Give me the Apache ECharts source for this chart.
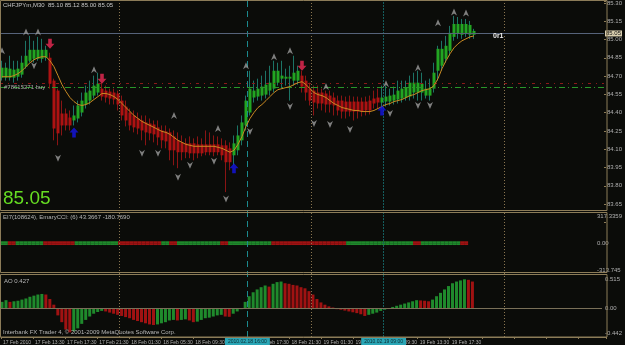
<!DOCTYPE html>
<html><head><meta charset="utf-8">
<script src="https://cdn.jsdelivr.net/npm/echarts@6/dist/echarts.min.js"></script>
<style>html,body{margin:0;padding:0;background:#0b0c09;}#c{width:625px;height:345px;}</style>
</head><body><div id="c"></div>
<script>
// ---------- data ----------
const timeLabels = ['17 Feb 2010','17 Feb 13:30','17 Feb 17:30','17 Feb 21:30','18 Feb 01:30','18 Feb 05:30','18 Feb 09:30','18 Feb 13:30','18 Feb 17:30','18 Feb 21:30','19 Feb 01:30','19 Feb 05:30','19 Feb 09:30','19 Feb 13:30','19 Feb 17:30'];
const haOpen = [84.687,84.687,84.687,84.687,84.695,84.712,84.777,84.826,84.842,84.842,
84.842,84.851,84.851,84.663,84.581,84.393,84.393,84.360,84.336,84.352,
84.401,84.467,84.499,84.540,84.565,84.597,84.581,84.573,84.565,84.557,
84.499,84.450,84.401,84.377,84.352,84.336,84.320,84.311,84.303,84.279,
84.254,84.246,84.238,84.205,84.173,84.156,84.148,84.148,84.148,84.140,
84.140,84.140,84.140,84.140,84.140,84.132,84.132,84.107,84.050,84.091,
84.173,84.295,84.401,84.524,84.532,84.540,84.548,84.581,84.597,84.646,
84.679,84.679,84.679,84.663,84.663,84.704,84.663,84.597,84.581,84.565,
84.565,84.557,84.540,84.524,84.499,84.499,84.491,84.491,84.491,84.491,
84.491,84.491,84.499,84.516,84.524,84.483,84.491,84.491,84.499,84.508,
84.516,84.524,84.532,84.565,84.565,84.565,84.540,84.540,84.597,84.744,
84.785,84.842,84.908,85.022,85.047,85.039,85.047,85.039,85.039];
const haClose = [84.769,84.769,84.761,84.753,84.761,84.810,84.867,84.916,84.916,84.916,
84.916,84.916,84.638,84.270,84.230,84.295,84.295,84.295,84.377,84.459,
84.499,84.565,84.581,84.622,84.638,84.532,84.524,84.516,84.508,84.467,
84.377,84.336,84.295,84.279,84.270,84.254,84.238,84.230,84.222,84.197,
84.173,84.164,84.091,84.091,84.075,84.075,84.075,84.066,84.066,84.066,
84.066,84.075,84.075,84.075,84.075,84.050,83.993,83.993,84.148,84.213,
84.320,84.499,84.597,84.581,84.597,84.614,84.630,84.646,84.744,84.744,
84.704,84.695,84.695,84.728,84.744,84.614,84.565,84.499,84.483,84.475,
84.475,84.467,84.467,84.459,84.418,84.409,84.409,84.409,84.409,84.409,
84.409,84.418,84.418,84.475,84.483,84.524,84.532,84.540,84.548,84.581,
84.597,84.606,84.646,84.646,84.646,84.638,84.597,84.597,84.728,84.924,
84.924,84.949,85.055,85.128,85.128,85.128,85.128,85.120,85.071];
const haLow = [84.663,84.663,84.663,84.646,84.663,84.687,84.761,84.810,84.810,84.826,
84.810,84.826,84.597,84.173,84.132,84.213,84.254,84.254,84.295,84.320,
84.369,84.434,84.467,84.516,84.540,84.499,84.483,84.467,84.467,84.418,
84.336,84.287,84.254,84.238,84.222,84.173,84.132,84.173,84.156,84.132,
84.107,84.107,84.009,83.968,83.944,84.009,84.026,84.026,84.009,84.026,
84.042,84.050,84.050,84.042,84.050,84.009,83.748,83.927,83.968,84.050,
84.132,84.254,84.377,84.483,84.499,84.499,84.516,84.540,84.565,84.622,
84.597,84.622,84.499,84.622,84.630,84.565,84.499,84.459,84.377,84.434,
84.418,84.401,84.401,84.377,84.377,84.352,84.352,84.369,84.336,84.352,
84.369,84.377,84.385,84.434,84.434,84.434,84.450,84.459,84.467,84.475,
84.483,84.499,84.499,84.516,84.499,84.499,84.516,84.499,84.565,84.663,
84.744,84.810,84.867,84.990,85.006,85.006,85.022,85.006,85.006];
const haHigh = [84.826,84.810,84.867,84.826,84.826,84.867,84.990,85.030,84.990,85.022,
85.006,84.949,84.892,84.679,84.597,84.499,84.434,84.418,84.459,84.499,
84.565,84.622,84.663,84.704,84.728,84.646,84.622,84.597,84.597,84.581,
84.540,84.499,84.434,84.418,84.401,84.377,84.377,84.352,84.336,84.336,
84.295,84.295,84.270,84.254,84.238,84.213,84.189,84.205,84.189,84.205,
84.189,84.254,84.238,84.213,84.205,84.189,84.173,84.156,84.213,84.295,
84.377,84.540,84.744,84.663,84.679,84.704,84.744,84.785,84.826,84.810,
84.826,84.761,84.785,84.867,84.785,84.744,84.704,84.646,84.622,84.622,
84.597,84.581,84.581,84.565,84.540,84.540,84.532,84.540,84.532,84.532,
84.524,84.532,84.540,84.581,84.597,84.622,84.622,84.597,84.614,84.663,
84.663,84.663,84.704,84.728,84.744,84.728,84.663,84.679,84.810,84.949,
84.990,85.030,85.112,85.194,85.185,85.169,85.169,85.153,85.088];
const maValues = [84.695,84.695,84.695,84.704,84.720,84.744,84.777,84.810,84.834,84.851,
84.859,84.859,84.826,84.777,84.704,84.630,84.573,84.524,84.491,84.467,
84.459,84.467,84.483,84.508,84.532,84.557,84.557,84.548,84.532,84.508,
84.475,84.442,84.409,84.377,84.352,84.328,84.311,84.295,84.279,84.262,
84.246,84.238,84.222,84.197,84.173,84.156,84.140,84.132,84.124,84.124,
84.124,84.124,84.124,84.124,84.116,84.107,84.091,84.075,84.091,84.140,
84.205,84.287,84.352,84.401,84.442,84.467,84.499,84.532,84.565,84.589,
84.597,84.606,84.614,84.630,84.646,84.654,84.630,84.597,84.565,84.548,
84.540,84.524,84.499,84.475,84.459,84.442,84.434,84.426,84.418,84.418,
84.409,84.409,84.409,84.418,84.434,84.450,84.467,84.475,84.491,84.499,
84.508,84.524,84.540,84.548,84.565,84.581,84.589,84.597,84.622,84.679,
84.761,84.826,84.883,84.932,84.965,84.990,85.006,85.022,85.030];
const fractalUpBar = [0,6,9,23,43,54,61,68,72,81,96,104,109,113,116];
const fractalUpPrice = [84.908,85.063,85.063,84.753,84.377,84.270,84.785,84.859,84.908,84.614,84.638,84.769,85.137,85.226,85.218];
const fractalDnBar = [8,14,35,39,44,47,53,56,62,72,78,82,87,97,104,107];
const fractalDnPrice = [84.785,84.026,84.066,84.066,83.870,83.968,84.001,83.691,84.246,84.450,84.311,84.303,84.262,84.393,84.459,84.459];
const sellBar = [12,25,75];
const sellPrice = [84.965,84.679,84.785];
const buyBar = [18,58,95];
const buyPrice = [84.238,83.944,84.418];
const levelPrices = [85.05,84.638,84.605];
const priceRange = [83.50,85.3163];
const cciSign = [1,1,-1,-1,1,1,1,1,1,1,1,-1,-1,-1,-1,-1,-1,-1,-1,1,
1,1,1,1,1,1,1,1,1,1,-1,-1,-1,-1,-1,-1,-1,-1,-1,-1,
-1,1,1,-1,-1,1,1,1,1,1,1,1,1,1,1,1,-1,-1,1,1,
1,1,1,1,1,1,1,1,1,-1,-1,-1,-1,-1,-1,-1,-1,-1,-1,-1,
-1,-1,-1,-1,-1,-1,-1,-1,1,1,1,1,1,1,1,1,1,1,1,1,
1,1,1,1,1,-1,-1,1,1,1,1,1,1,1,1,1,1,-1,-1];
const cciAxis = [-313.745,0,317.3359];
const cciAxisText = ['-313.745','0.00','317.3359'];
const aoValues = [0.11,0.14,0.11,0.12,0.13,0.15,0.17,0.20,0.22,0.24,
0.25,0.24,0.16,0.06,-0.13,-0.25,-0.38,-0.43,-0.41,-0.36,
-0.28,-0.21,-0.15,-0.10,-0.07,-0.05,-0.06,-0.08,-0.10,-0.12,
-0.14,-0.16,-0.18,-0.21,-0.23,-0.25,-0.27,-0.29,-0.30,-0.29,
-0.27,-0.25,-0.22,-0.21,-0.22,-0.21,-0.20,-0.22,-0.25,-0.24,
-0.21,-0.18,-0.17,-0.15,-0.13,-0.12,-0.15,-0.155,-0.10,-0.06,
-0.02,0.11,0.21,0.28,0.33,0.37,0.40,0.38,0.43,0.46,
0.47,0.44,0.43,0.41,0.40,0.37,0.35,0.30,0.24,0.16,
0.10,0.06,0.03,0.01,-0.02,-0.03,-0.045,-0.06,-0.075,-0.09,
-0.11,-0.14,-0.12,-0.10,-0.08,-0.05,-0.03,-0.01,0.02,0.04,
0.06,0.08,0.10,0.12,0.14,0.135,0.13,0.12,0.15,0.21,
0.27,0.33,0.39,0.44,0.47,0.49,0.51,0.50,0.47];
const aoAxis = [-0.442,0,0.515];
const aoAxisText = ['-0.442','0.00','0.515'];
const dayBreakBars = [29,77,125];
const markerBars = [61,95];
const markerText = ['2010.02.18 16:00','2010.02.19 09:00'];

// ---------- chart ----------
const SLOTS = 151;
const slots = Array.from({length: SLOTS}, (_, i) => i);
const TAN = '#8c7c58', LBL = '#b0b0b0', FONT = 'Liberation Sans';
const GREEN = '#22a522', RED = '#ad1212';
const AOG = '#1f8a2c', AOR = '#a01212';

const candles = haOpen.map((o, i) => [o, haClose[i], haLow[i], haHigh[i]]);
const bodies = haOpen.map((o, i) => [o, haClose[i], Math.min(o, haClose[i]), Math.max(o, haClose[i])]);

function pick(ticks, texts) {
  return v => { for (let k = 0; k < ticks.length; k++) if (Math.abs(v - ticks[k]) < 1e-6) return texts[k]; return ''; };
}
const near = (a, b) => Math.abs(a - b) < 1e-6;
const xBase = (idx) => ({type:'category', gridIndex: idx, data: slots, boundaryGap: true,
  axisLine:{show:false}, axisTick:{show:false}, axisLabel:{show:false}, splitLine:{show:false}});

const fracUp = 'path://M5,0 L10,10 L5,7 L0,10 Z';
const fracDn = 'path://M0,0 L5,3 L10,0 L5,10 Z';
const arrDn = 'path://M3,0 L7,0 L7,5 L10,5 L5,10 L0,5 L3,5 Z';
const arrUp = 'path://M5,0 L10,5 L7,5 L7,10 L3,10 L3,5 L0,5 Z';

const PX_PER_UNIT = 122.4;
const option = {
  backgroundColor: '#0b0c09',
  animation: false,
  textStyle: {fontFamily: FONT},
  grid: [
    {left: 0, width: 606, top: 0, height: (priceRange[1] - priceRange[0]) * PX_PER_UNIT},
    {left: 0, width: 606, top: 216, height: 54},
    {left: 0, width: 606, top: 279, height: 54},
    {left: 0, width: 606, top: 0, height: 337}
  ],
  xAxis: [xBase(0), xBase(1), xBase(2),
    {type:'category', gridIndex: 3, data: slots, boundaryGap: true,
     axisLine:{show:true, lineStyle:{color: TAN}}, axisTick:{show:true, interval:7, length:2, lineStyle:{color:TAN}},
     axisLabel:{show:true, interval:7, showMinLabel:true, align:'left', margin:3, fontSize:5, color: LBL, fontFamily: FONT,
       formatter: (v) => (Number(v) % 8 === 0 && timeLabels[Number(v) / 8]) ? timeLabels[Number(v) / 8] : ''}, splitLine:{show:false}}],
  yAxis: [
    {type:'value', gridIndex:0, position:'right', min: priceRange[0], max: priceRange[1], interval: 0.15,
     axisLine:{show:false}, axisTick:{show:true, length:2, lineStyle:{color:TAN}}, splitLine:{show:false},
     axisLabel:{margin:3, fontSize:6, color: LBL, fontFamily: FONT, showMinLabel:true, showMaxLabel:true,
       formatter: v => (near(v, priceRange[0]) || near(v, priceRange[1])) ? '' : v.toFixed(2)}},
    {type:'value', gridIndex:1, position:'right', min: cciAxis[0], max: cciAxis[2], interval: -cciAxis[0],
     axisLine:{show:false}, axisTick:{show:false}, splitLine:{show:false},
     axisLabel:{margin:3, fontSize:6, color: LBL, fontFamily: FONT, formatter: pick(cciAxis, cciAxisText)}},
    {type:'value', gridIndex:2, position:'right', min: aoAxis[0], max: aoAxis[2], interval: -aoAxis[0],
     axisLine:{show:false}, axisTick:{show:false}, splitLine:{show:false},
     axisLabel:{margin:3, fontSize:6, color: LBL, fontFamily: FONT, formatter: pick(aoAxis, aoAxisText)}},
    {type:'value', gridIndex:3, min:0, max:1, show:false}
  ],
  series: [
    {type:'line', xAxisIndex:3, yAxisIndex:3, data: [], z: 1, silent: true,
     markLine: {symbol:'none', silent:true, animation:false,
       data: dayBreakBars.map(b => ({xAxis: b, lineStyle:{color:'#8a7650', type:[1,2], width:1}, label:{show:false}}))
         .concat(markerBars.map((b, k) => ({xAxis: b,
           lineStyle: k === 0 ? {color:'#1b8a8e', type:[6,4], width:1} : {color:'#145e5e', type:[2,1], width:1},
           label:{show:true, position:'start', distance:1, formatter: markerText[k], fontSize:5, fontFamily: FONT,
             color:'#0c2a30', backgroundColor:'#2aa6b6', padding:[1,3]}})))}},
    {type:'candlestick', xAxisIndex:0, yAxisIndex:0, data: candles, barWidth: 1, z: 3,
     itemStyle:{color:'#1c7466', color0:'#8a1414', borderColor:'#1c7466', borderColor0:'#8a1414', borderWidth:1}},
    {type:'candlestick', xAxisIndex:0, yAxisIndex:0, data: bodies, barWidth: 3, z: 4,
     itemStyle:{color: GREEN, color0: RED, borderColor: GREEN, borderColor0: RED, borderWidth:0},
     markLine:{symbol:'none', silent:true, animation:false, data:[
       {yAxis: levelPrices[0], lineStyle:{color:'#56637a', type:'solid', width:1},
        label:{show:true, position:'end', distance:1, formatter: levelPrices[0].toFixed(2), fontSize:6, fontFamily: FONT,
          color:'#101010', backgroundColor:'#d9cfb0', padding:[0,1]}},
       {yAxis: levelPrices[1], lineStyle:{color:'#8c1a1a', type:[3,5,1,5], width:1}, label:{show:false}},
       {yAxis: levelPrices[2], lineStyle:{color:'#2a962a', type:[6,3,1,3], width:1}, label:{show:false}}]}},
    {type:'line', xAxisIndex:0, yAxisIndex:0, data: maValues, showSymbol:false, z: 5,
     lineStyle:{color:'#c98a22', width:1}},
    {type:'scatter', xAxisIndex:0, yAxisIndex:0, z: 6, symbol: fracUp, symbolSize:[6,7],
     itemStyle:{color:'#9c9c9c'}, data: fractalUpBar.map((b, k) => [b, fractalUpPrice[k]])},
    {type:'scatter', xAxisIndex:0, yAxisIndex:0, z: 6, symbol: fracDn, symbolSize:[6,7],
     itemStyle:{color:'#9c9c9c'}, data: fractalDnBar.map((b, k) => [b, fractalDnPrice[k]])},
    {type:'scatter', xAxisIndex:0, yAxisIndex:0, z: 7, symbol: arrDn, symbolSize:[9,10],
     itemStyle:{color:'#ec2a55'}, data: sellBar.map((b, k) => [b, sellPrice[k]])},
    {type:'scatter', xAxisIndex:0, yAxisIndex:0, z: 7, symbol: arrUp, symbolSize:[9,10],
     itemStyle:{color:'#1414e6'}, data: buyBar.map((b, k) => [b, buyPrice[k]])},
    {type:'bar', xAxisIndex:1, yAxisIndex:1, stack:'cci', barWidth: 4, z: 3,
     data: cciSign.map(s => ({value: 22, itemStyle:{color: s > 0 ? AOG : AOR}}))},
    {type:'bar', xAxisIndex:1, yAxisIndex:1, stack:'cci', barWidth: 4, z: 3,
     data: cciSign.map(s => ({value: -22, itemStyle:{color: s > 0 ? AOG : AOR}}))},
    {type:'bar', xAxisIndex:2, yAxisIndex:2, barWidth: 3, z: 3,
     data: aoValues.map((v, i) => ({value: v, itemStyle:{color: (i > 0 && v < aoValues[i-1]) ? AOR : AOG}})),
     markLine:{symbol:'none', silent:true, animation:false, label:{show:false},
       data:[{yAxis: 0, lineStyle:{color:'#7a7058', type:'solid', width:1}}]}}
  ],
  graphic: [
    {type:'rect', z:50, silent:true, shape:{x:0.5, y:0.5, width:606.5, height:210}, style:{fill:null, stroke:TAN, lineWidth:1}},
    {type:'rect', z:50, silent:true, shape:{x:0.5, y:212.5, width:606.5, height:60}, style:{fill:null, stroke:TAN, lineWidth:1}},
    {type:'rect', z:50, silent:true, shape:{x:0.5, y:274.5, width:606.5, height:62.5}, style:{fill:null, stroke:TAN, lineWidth:1}},
    {type:'text', z:60, left:3, top:2, style:{text:'CHFJPYm,M30  85.10 85.12 85.00 85.05', fill:'#c8c8c8', font:'6px "Liberation Sans"'}},
    {type:'text', z:60, left:4, top:84, style:{text:'#78615271 buy', fill:'#a8a8a8', font:'6px "Liberation Sans"'}},
    {type:'text', z:60, left:493, top:33, style:{text:'0r1', fill:'#f0f0f0', font:'bold 7px "Liberation Sans"'}},
    {type:'text', z:60, left:3, top:189, style:{text:'85.05', fill:'#66dd22', font:'19px "Liberation Sans"'}},
    {type:'text', z:60, left:3, top:214, style:{text:'EI7(108624), EmaryCCI: (6) 43.3667 -180.7690', fill:'#b8b8b8', font:'6px "Liberation Sans"'}},
    {type:'text', z:60, left:4, top:278, style:{text:'AO 0.427', fill:'#b8b8b8', font:'6px "Liberation Sans"'}},
    {type:'text', z:60, left:3, top:329, style:{text:'Interbank FX Trader 4, \u00a9 2001-2009 MetaQuotes Software Corp.', fill:'#b8b8b8', font:'6px "Liberation Sans"'}}
  ]
};
const chart = echarts.init(document.getElementById('c'));
chart.setOption(option);
</script></body></html>
